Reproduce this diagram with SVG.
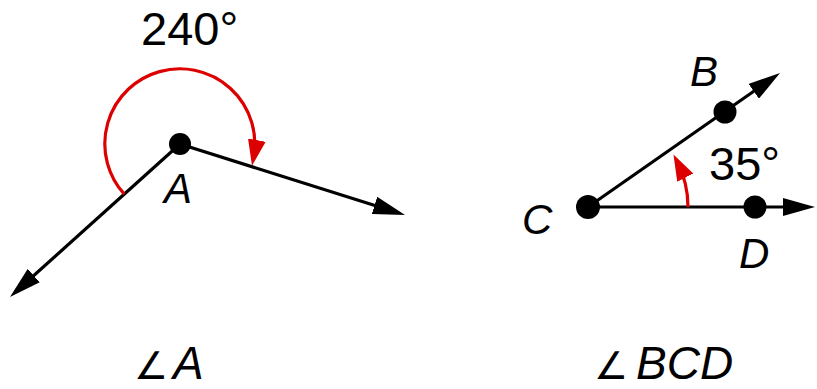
<svg xmlns="http://www.w3.org/2000/svg" width="817" height="389" viewBox="0 0 817 389">
<style>
.ray{stroke:#000;stroke-width:3.2;fill:none;marker-end:url(#ah)}
.arc{stroke:#dd0000;stroke-width:3.2;fill:none;marker-end:url(#rh)}
.dot{fill:#000}
.lbl{font-family:"Liberation Sans",Arial,sans-serif;font-style:italic;font-size:42px;fill:#000}
.deg{font-family:"Liberation Sans",Arial,sans-serif;font-size:47px;fill:#000}
.name{font-family:"Liberation Sans",Arial,sans-serif;font-style:italic;font-size:46px;fill:#000}
.ang{font-family:"DejaVu Sans","Noto Sans",sans-serif;font-style:normal;font-size:38px;fill:#000}
</style>
<defs>
<marker id="ah" markerUnits="userSpaceOnUse" markerWidth="32" markerHeight="18" refX="22" refY="9" orient="auto" viewBox="0 0 32 18"><path d="M0,0 L32,9 L0,18 z" fill="#000"/></marker>
<marker id="rh" markerUnits="userSpaceOnUse" markerWidth="26" markerHeight="18" refX="18" refY="9" orient="auto" viewBox="0 0 26 18"><path d="M0,0 L26,9 L0,18 z" fill="#dd0000"/></marker>
</defs>
<g id="connectors">
<line class="ray" x1="180" y1="144" x2="395.5" y2="212"/>
<line class="ray" x1="180" y1="144" x2="17.4" y2="290.3"/>
<line class="ray" x1="588" y1="207" x2="771.8" y2="78.7"/>
<line class="ray" x1="588" y1="207" x2="805" y2="207"/>
<path class="arc" d="M124.3,194.2 A75,75 0 1 1 253.5,157.8"/>
<path class="arc" d="M688,207 A100,100 0 0 0 677.1,161.6"/>
</g>
<g id="nodeA">
<circle class="dot" cx="180" cy="144" r="11"/>
<text class="lbl" x="164" y="203">A</text>
<text class="deg" x="141" y="45">240°</text>
</g>
<g id="nodeB">
<circle class="dot" cx="725" cy="112" r="11.5"/>
<text class="lbl" x="690" y="86">B</text>
</g>
<g id="nodeC">
<circle class="dot" cx="588" cy="207" r="12"/>
<text class="lbl" x="522" y="234">C</text>
<text class="deg" x="709" y="180">35°</text>
</g>
<g id="nodeD">
<circle class="dot" cx="755" cy="207" r="11.5"/>
<text class="lbl" x="739" y="268">D</text>
</g>
<g id="captionA">
<text x="134" y="379"><tspan class="ang">∠</tspan><tspan class="name" x="173">A</tspan></text>
</g>
<g id="captionBCD">
<text x="594" y="379"><tspan class="ang">∠</tspan><tspan class="name" x="636">BCD</tspan></text>
</g>
</svg>
